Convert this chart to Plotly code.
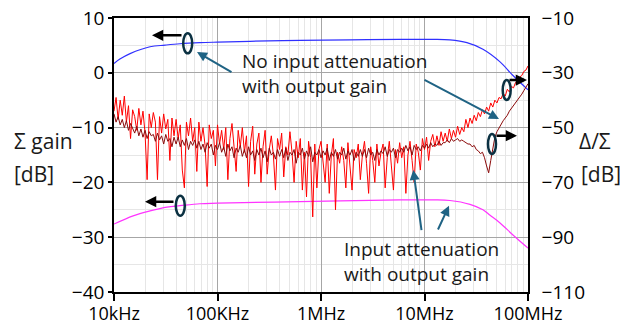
import numpy as np
import plotly.graph_objects as go

# ---------------- data ----------------
x_tickvals = [1e4, 1e5, 1e6, 1e7, 1e8]
x_ticktext = ["10kHz", "100KHz", "1MHz", "10MHz", "100MHz"]

# Sigma gain, no input attenuation, with output gain (left axis, dB)
blue_f = [1e4, 1.14e4, 1.43e4, 2.23e4, 3.11e4, 4.34e4, 6.76e4, 1e5, 2.06e5,
          6.27e5, 1.9e6, 5.8e6, 1.2e7, 1.76e7, 2.57e7, 3.67e7, 5.37e7, 7.16e7, 1e8]
blue_db = [1.7, 2.5, 3.5, 4.75, 5.05, 5.3, 5.5, 5.6, 5.75,
           5.9, 6.0, 6.1, 6.1, 6.0, 5.5, 4.3, 2.0, -0.5, -3.1]

# Sigma gain, input attenuation, with output gain (left axis, dB)
mag_f = [1e4, 1.53e4, 2.23e4, 3.25e4, 4.34e4, 6.76e4, 1e5, 6.27e5, 5.8e6,
         1.2e7, 1.76e7, 2.75e7, 3.67e7, 4.3e7, 5.37e7, 7.16e7, 1e8]
mag_db = [-27.6, -26.1, -25.2, -24.5, -24.25, -23.9, -23.8, -23.5, -23.2,
          -23.2, -23.3, -24.0, -25.0, -26.0, -27.4, -29.6, -32.0]

# Delta/Sigma sweep (right axis, dB), 201 log-spaced sweep points 10 kHz .. 100 MHz
sweep_f = np.logspace(4, 8, 201)

red_db = [
    -44, -39, -47, -40, -45.5, -38.5, -48, -42, -54, -43.5,
    -46, -51, -43, -49, -44, -52, -69, -45, -50, -44.5,
    -48, -69, -46, -52, -45, -50.5, -47, -62, -46.5, -53,
    -47, -54, -49, -65.5, -72, -48, -53, -46.5, -55, -50,
    -66, -48, -55, -50, -56.5, -71.5, -49, -54, -51, -64,
    -49, -56, -51, -58, -50, -69, -54, -48.5, -57, -66,
    -51, -57, -50, -59, -53, -71.5, -55, -49.5, -67, -56,
    -52, -70, -57, -51, -67, -58, -53, -60, -72.8, -54,
    -58, -52, -68, -57, -60, -51.5, -59, -70, -55, -61,
    -54, -72.8, -59, -75.3, -55, -61, -82.6, -56, -72, -58,
    -55, -62, -70, -56, -74, -60, -54, -80, -59, -63,
    -57, -62, -72, -55.5, -63, -72.8, -58, -61, -56, -69,
    -60, -55, -63, -74, -57, -62, -70, -56, -64, -59,
    -56, -72, -61, -55, -64, -72.8, -58, -63, -55.5, -61,
    -57, -74, -60, -55, -62, -70, -56, -59, -65.5, -54,
    -58, -53.5, -62, -55, -52.5, -57, -53, -56.5, -51.5, -55,
    -52, -55, -50.5, -54, -51, -53.5, -49.5, -52.5, -50, -51.5,
    -47, -50, -46.5, -48.5, -45.5, -47.5, -44.5, -46, -43.5, -45,
    -42.5, -44, -41, -42.5, -40, -41, -39, -39.5, -37.5, -38.5,
    -36, -37, -35, -35.5, -33.5, -33, -31.5, -31, -29.5, -29,
    -27.5]

dark_db = [
    -45, -48, -46, -49, -47, -50, -47.5, -51, -48.5, -50,
    -52, -49.5, -53, -50.5, -53.5, -51, -54, -51.5, -53, -52.5,
    -55, -52, -54.5, -53, -56, -52.5, -55, -54, -57, -53.5,
    -56, -53.5, -57, -54.5, -56.5, -54, -58, -55, -56.5, -54.5,
    -57.5, -55, -58, -56, -59, -55.5, -57.5, -56, -60, -56.5,
    -58, -55.5, -59, -57, -60.5, -56, -58.5, -57, -61, -57.5,
    -59, -56.5, -60.5, -58, -61, -57, -60, -58.5, -62, -58,
    -60, -57.5, -61, -58.5, -62.5, -57.5, -60, -59, -61.5, -58,
    -60.5, -58, -61, -57.5, -62, -59, -60, -58, -63, -59,
    -60, -57.5, -61.5, -58.5, -60.5, -57, -62.5, -59, -60, -58,
    -61, -58.5, -60, -57.5, -62, -59, -60.5, -58, -61.5, -59,
    -60, -57.5, -61.5, -58.5, -60, -58, -62, -59, -60.5, -58,
    -60.5, -58, -61, -57.5, -60, -59, -62, -58, -60, -58.5,
    -59.5, -57, -60.5, -58, -59, -57.5, -61, -58, -59, -57.5,
    -59, -56.5, -58.5, -57, -60, -56.5, -58, -57, -58.5, -56.5,
    -57.5, -56, -57.5, -55.5, -57, -56, -56.5, -55, -56.5, -55.5,
    -55.5, -54.5, -55.5, -54, -55, -54.5, -54, -55, -54.5, -55,
    -55.5, -56, -56, -57, -56.5, -58, -58.5, -59.5, -59, -61,
    -64, -66.5, -62, -57, -53.5, -51.5, -50, -48.5, -47.5, -46.5,
    -45.5, -44, -43, -42, -41, -40, -39, -37.8, -36.5, -35.2,
    -34]

# ---------------- figure ----------------
W, H = 620, 328
L, T = 114, 18
PW, PH = 414, 274
R, B = W - L - PW, H - T - PH


def px(x):  # window pixel x -> paper
    return (x - L) / PW


def py(y):  # window pixel y -> paper
    return (T + PH - y) / PH


FONT = "Open Sans"
TXT = "#1a1a1a"
TEAL = "#1f6384"
DARK = "#0b3142"

fig = go.Figure()
fig.add_trace(go.Scatter(x=sweep_f, y=red_db, yaxis="y2", mode="lines",
                         line=dict(color="#ff0000", width=1)))
fig.add_trace(go.Scatter(x=sweep_f, y=dark_db, yaxis="y2", mode="lines",
                         line=dict(color="#8b0a0a", width=1)))
fig.add_trace(go.Scatter(x=blue_f, y=blue_db, mode="lines",
                         line=dict(color="#3030ff", width=1.2, shape="spline")))
fig.add_trace(go.Scatter(x=mag_f, y=mag_db, mode="lines",
                         line=dict(color="#ff33ff", width=1.2, shape="spline")))

minor_x = [m * 10 ** e for e in range(4, 8) for m in range(2, 10)]

fig.update_layout(
    width=W, height=H,
    margin=dict(l=L, r=R, t=T, b=B, pad=0, autoexpand=False),
    paper_bgcolor="white", plot_bgcolor="white",
    showlegend=False, hovermode=False,
    font=dict(family=FONT, color="black"),
    xaxis=dict(type="log", range=[4, 8], tickmode="array", automargin=False,
               tickvals=x_tickvals, ticktext=x_ticktext,
               showgrid=True, gridcolor="#a6a6a6", gridwidth=1.3,
               minor=dict(tickmode="array", tickvals=minor_x, showgrid=True,
                          gridcolor="#e6e6e6", gridwidth=1, ticks=""),
               ticks="outside", ticklen=7, tickwidth=1.5, tickcolor="black",
               ticklabelstandoff=-2,
               showline=True, linecolor="black", linewidth=1.5, mirror=True,
               zeroline=False, tickfont=dict(size=18, color="black")),
    yaxis=dict(range=[-40, 10], tick0=0, dtick=10, automargin=False,
               showgrid=True, gridcolor="#a6a6a6", gridwidth=1.3,
               minor=dict(dtick=5, showgrid=True, gridcolor="#e6e6e6",
                          gridwidth=1, ticks=""),
               ticks="outside", ticklen=4, tickwidth=1.5, tickcolor="black",
               showline=True, linecolor="black", linewidth=1.5, mirror=True,
               zeroline=False, tickfont=dict(size=19, color="black")),
    yaxis2=dict(range=[-110, -10], tick0=-10, dtick=20, overlaying="y",
                side="right", showgrid=False, zeroline=False, ticks="",
                automargin=False,
                showline=True, linecolor="black", linewidth=1.5,
                ticklabelstandoff=8, tickfont=dict(size=19, color="black")),
)

ann = []
# axis titles
for text, xx, yy in [("Σ gain", 12, 141), ("[dB]", 12, 174),
                     ("Δ/Σ", 577, 141), ("[dB]", 579, 174)]:
    ann.append(dict(text=text, x=px(xx), y=py(yy), xref="paper", yref="paper",
                    xanchor="left", yanchor="middle", showarrow=False,
                    font=dict(family=FONT, size=21, color=TXT)))
# callout texts
for text, xx, yy in [("No input attenuation<br>with output gain", 240, 73),
                     ("Input attenuation<br>with output gain", 342, 261)]:
    ann.append(dict(text=text, x=px(xx), y=py(yy), xref="paper", yref="paper",
                    xanchor="left", yanchor="middle", align="left", showarrow=False,
                    font=dict(family=FONT, size=19, color=TXT)))
# black arrows (axis indicators)
for tx, ty, dx, dy in [(152, 35.3, 31, 0), (145, 201.7, 30, 0),
                       (527, 80, -19, 0), (517, 135.7, -22, 0)]:
    ann.append(dict(text="", x=px(tx), y=py(ty), xref="paper", yref="paper",
                    ax=dx, ay=dy, showarrow=True, arrowhead=2, arrowsize=0.9,
                    arrowwidth=2.5, arrowcolor="black", standoff=0, startstandoff=0))
# teal pointer arrows
for tx, ty, dx, dy in [(197, 52, 36, 21), (499, 119, -76, -40),
                       (413.3, 170, 8.4, 61.7), (449, 205.7, -11.7, 25.3)]:
    ann.append(dict(text="", x=px(tx), y=py(ty), xref="paper", yref="paper",
                    ax=dx, ay=dy, showarrow=True, arrowhead=2, arrowsize=1,
                    arrowwidth=2, arrowcolor=TEAL, standoff=0, startstandoff=0))
fig.update_layout(annotations=ann)

shapes = []
for cx, cy, w, h in [(187.7, 43.3, 9, 20), (180.3, 205.7, 9, 20),
                     (506.7, 90, 8, 20), (492, 144, 8, 20)]:
    shapes.append(dict(type="circle", xref="paper", yref="paper",
                       x0=px(cx - w / 2), x1=px(cx + w / 2),
                       y0=py(cy + h / 2), y1=py(cy - h / 2),
                       line=dict(color=DARK, width=2.5)))
fig.update_layout(shapes=shapes)

# remove the default page margin so the figure sits at the window's top-left corner
fig.write_html(
    "out.html",
    config={"displayModeBar": False},
    post_script="document.body.style.margin='0';"
                "document.documentElement.style.overflow='hidden';"
                "document.body.style.overflow='hidden';window.scrollTo(0,0);",
)
